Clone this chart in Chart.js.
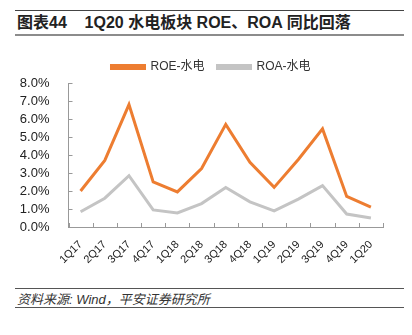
<!DOCTYPE html>
<html lang="zh-cn">
<head>
<meta charset="UTF-8">
<title>1Q20 水电板块 ROE、ROA 同比回落</title>
<style>
  body { margin:0; width:412px; height:335px; background:#fff; position:relative; overflow:hidden;
         font-family:"Liberation Sans", "Noto Sans CJK SC", sans-serif; color:#222; }
  .rule { position:absolute; left:15px; width:389px; }
  #title { position:absolute; left:17px; top:13px; font-size:16px; font-weight:bold; white-space:pre; line-height:20px; }
  #source { position:absolute; left:17px; top:292px; font-size:13px; font-style:italic; line-height:15px; color:#333; }
  #wrap { position:absolute; left:0; top:40px; width:412px; height:230px; }
</style>
</head>
<body>
<div class="rule" style="top:10px;height:1px;background:#444"></div>
<div id="title">图表44    1Q20 水电板块 ROE、ROA 同比回落</div>
<div class="rule" style="top:34px;height:2px;background:#8c8c8c"></div>
<div id="wrap"><canvas id="myChart" width="412" height="230"></canvas></div>
<div class="rule" style="top:288px;height:1px;background:#555"></div>
<div id="source">资料来源: Wind，平安证券研究所</div>
<div class="rule" style="top:307px;height:1px;background:#555"></div>

<script src="https://cdn.jsdelivr.net/npm/chart.js@4.4.0/dist/chart.umd.min.js"></script>
<script>
var quarters = ['1Q17','2Q17','3Q17','4Q17','1Q18','2Q18','3Q18','4Q18','1Q19','2Q19','3Q19','4Q19','1Q20'];
var roe = [2.0, 3.7, 6.8, 2.5, 1.95, 3.25, 5.7, 3.6, 2.2, 3.75, 5.45, 1.7, 1.1];
var roa = [0.85, 1.6, 2.85, 0.95, 0.78, 1.3, 2.2, 1.4, 0.9, 1.55, 2.3, 0.72, 0.5];
var seriesNames = ['ROE-水电', 'ROA-水电'];
var orange = '#ED7D31', grey = '#C4C4C4';

// inward tick marks, Excel style
var innerTicks = {
  id: 'innerTicks',
  afterDraw: function(chart) {
    var c = chart.ctx, x = chart.scales.x, y = chart.scales.y;
    c.save();
    c.strokeStyle = '#999';
    c.lineWidth = 1;
    c.beginPath();
    for (var i = 0; i <= quarters.length; i++) {
      var px = Math.round(x.getPixelForValue(i - 0.5)) + 0.5;
      c.moveTo(px, y.bottom);
      c.lineTo(px, y.bottom - 4);
    }
    for (var v = 0; v <= 8; v++) {
      var py = Math.round(y.getPixelForValue(v)) + 0.5;
      c.moveTo(x.left, py);
      c.lineTo(x.left + 4, py);
    }
    c.stroke();
    c.restore();
  }
};

var ctx = document.getElementById('myChart').getContext('2d');
var myChart = new Chart(ctx, {
  type: 'line',
  data: {
    labels: quarters,
    datasets: [{
      label: seriesNames[0],
      data: roe,
      borderColor: orange,
      backgroundColor: orange,
      borderWidth: 3,
      pointRadius: 0,
      tension: 0
    }, {
      label: seriesNames[1],
      data: roa,
      borderColor: grey,
      backgroundColor: grey,
      borderWidth: 3,
      pointRadius: 0,
      tension: 0
    }]
  },
  options: {
    responsive: false,
    animation: false,
    layout: { padding: { left: 10, right: 0, top: 8, bottom: 0 } },
    plugins: {
      legend: {
        position: 'top',
        labels: {
          boxWidth: 33,
          boxHeight: 3,
          padding: 13,
          color: '#333',
          font: { family: '"Liberation Sans", "Noto Sans CJK SC"', size: 12 }
        }
      },
      tooltip: { enabled: false }
    },
    scales: {
      x: {
        offset: true,
        grid: { display: false, offset: true },
        border: { display: true, color: '#999' },
        ticks: {
          minRotation: 45,
          maxRotation: 45,
          padding: 3,
          color: '#222',
          font: { family: '"Liberation Sans"', size: 11 }
        },
        afterFit: function(s) { s.height = 43; }
      },
      y: {
        min: 0,
        max: 8,
        grid: { display: false },
        border: { display: true, color: '#999' },
        ticks: {
          stepSize: 1,
          autoSkip: false,
          padding: 11,
          color: '#222',
          font: { family: '"Liberation Sans"', size: 13 },
          callback: function(v) { return v.toFixed(1) + '%'; }
        },
        afterFit: function(s) { s.width = 58.5; }
      },
      // empty right-hand axis, only keeps the plot clear of the right edge
      yRight: {
        position: 'right',
        grid: { display: false },
        border: { display: false },
        ticks: { display: false },
        afterFit: function(s) { s.width = 29; }
      }
    }
  },
  plugins: [innerTicks]
});
</script>
</body>
</html>
